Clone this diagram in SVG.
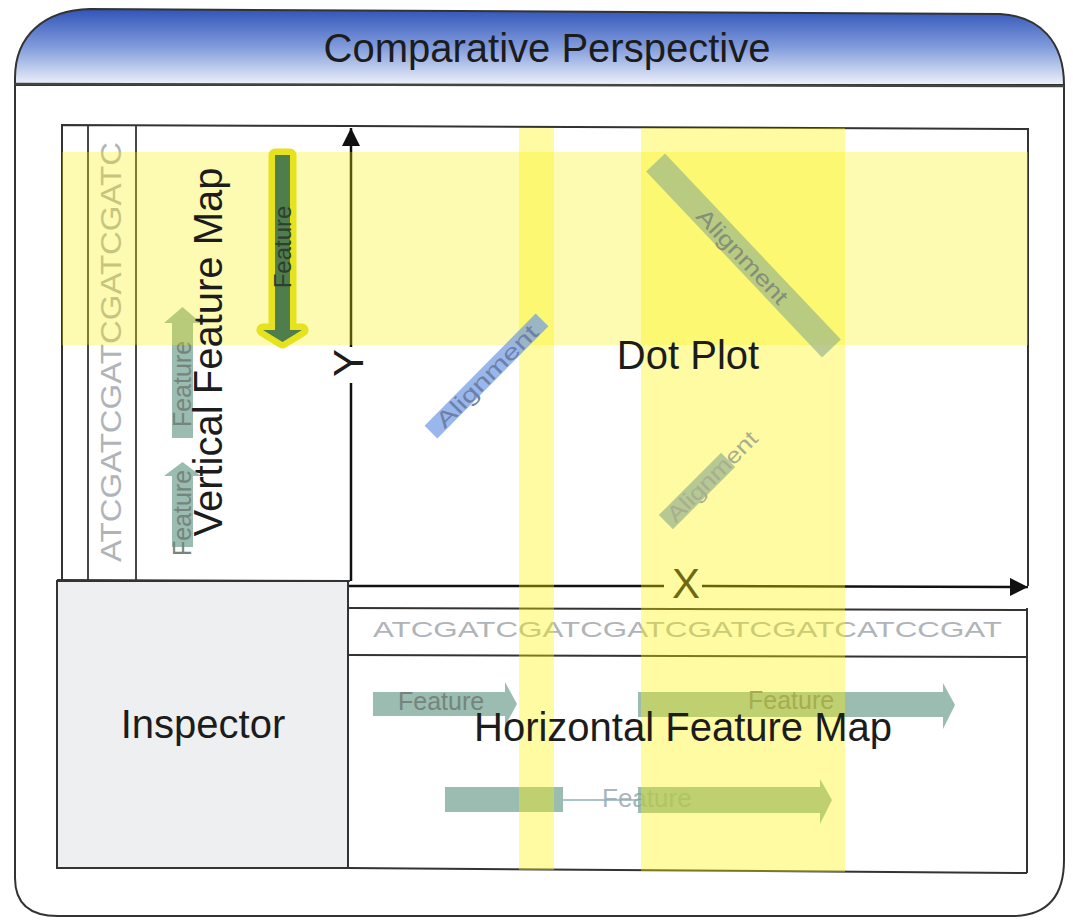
<svg xmlns="http://www.w3.org/2000/svg" width="1073" height="920" viewBox="0 0 1073 920">
<defs>
<linearGradient id="hdr" x1="0" y1="0" x2="0" y2="1">
<stop offset="0" stop-color="#3155b8"/>
<stop offset="0.5" stop-color="#819bdb"/>
<stop offset="1" stop-color="#eef2fa"/>
</linearGradient>
<marker id="ah" markerUnits="userSpaceOnUse" markerWidth="20" markerHeight="20" refX="18" refY="9" orient="auto">
<path d="M0,0 L18,9 L0,18 Z" fill="#111"/>
</marker>
<style>
text{font-family:"Liberation Sans",Arial,sans-serif}
.lbl{font-size:40px;fill:#1c1c1c}
.ax{font-size:42px;fill:#1c1c1c}
.frame{fill:none;stroke:#333;stroke-width:2}
.seq{fill:#b0b4b8}
.feat{fill:#7aa596;fill-opacity:0.75}
.ftxt{font-size:25px;fill:#75857d}
.atxt{font-size:22px}
.axis{stroke:#111;stroke-width:2.5;fill:none}
.hband{fill:#f8f000;fill-opacity:0.3}
.vband{fill:#fbf500;fill-opacity:0.36}
</style>
</defs>

<g id="outer-frame">
<path d="M15,85 L15,878 Q15,916 58,916 L1015,916 Q1064,914 1064,860 L1064,85 Z" fill="#fff" stroke="#333" stroke-width="2"/>
<path d="M15,85 L15,78 C15,35 45,10 90,9 L1000,14 C1040,16 1064,42 1064,85 Z" fill="url(#hdr)" stroke="#333" stroke-width="2"/>
<line x1="15" y1="84" x2="1064" y2="86" stroke="#444" stroke-width="2.5"/>
<text x="547" y="62" text-anchor="middle" class="lbl">Comparative Perspective</text>
</g>

<g id="inspector">
<rect x="57" y="581" width="291" height="287" fill="#eeeff1" stroke="#333" stroke-width="2"/>
<text x="203" y="738" text-anchor="middle" class="lbl">Inspector</text>
</g>

<g id="vertical-feature-map">
<path class="frame" d="M350,581 L57,580 M62,580 L62,125 L351,126"/>
<line x1="88" y1="126" x2="88" y2="580" stroke="#333" stroke-width="1.8"/>
<line x1="136" y1="126" x2="136" y2="580" stroke="#333" stroke-width="1.8"/>
<text transform="translate(121,562) rotate(-90)" class="seq" font-size="30" textLength="420" lengthAdjust="spacingAndGlyphs">ATCGATCGATCGATCGATC</text>
<g id="vfeature-1">
<path class="feat" d="M172,438 L193,438 L193,323 L201,323 L182.5,307 L164,323 L172,323 Z"/>
<text transform="translate(191,384) rotate(-90)" text-anchor="middle" class="ftxt">Feature</text>
</g>
<g id="vfeature-2">
<path class="feat" d="M172,547 L193,547 L193,476 L201,476 L182.5,462 L164,476 L172,476 Z"/>
<text transform="translate(191,513) rotate(-90)" text-anchor="middle" class="ftxt">Feature</text>
</g>
</g>

<g id="dot-plot-frame">
<path class="frame" d="M351,126 L1028,129 L1028,586"/>
</g>

<g id="horizontal-sequence">
<path class="frame" d="M348,608 L1027,610 M348,655 L1027,657 M1027,608 L1027,873"/>
<text x="373" y="637" class="seq" font-size="22" textLength="629" lengthAdjust="spacingAndGlyphs">ATCGATCGATCGATCGATCGATCATCCGAT</text>
</g>

<g id="horizontal-features">
<line x1="348" y1="868" x2="1027" y2="873" stroke="#333" stroke-width="2"/>
<g id="hfeature-1">
<path class="feat" d="M373,692 L505,692 L505,682 L517,704 L505,726 L505,716 L373,716 Z"/>
<text x="398" y="710" class="ftxt">Feature</text>
</g>
<g id="hfeature-2">
<path class="feat" d="M638,692 L943,692 L943,683 L955,705 L943,729 L943,717 L638,717 Z"/>
<text x="748" y="709" class="ftxt" font-size="25">Feature</text>
</g>
<g id="hfeature-3">
<text x="602" y="807" font-size="26" fill="#aab5bd">Feature</text>
<rect class="feat" x="445" y="787" width="118" height="25"/>
<line x1="563" y1="800" x2="638" y2="800" stroke="#8fb0b8" stroke-width="1.5"/>
<path class="feat" d="M638,787 L820,787 L820,779 L832,800 L820,824 L820,813 L638,813 Z"/>
</g>
</g>

<g id="connectors">
<g id="y-axis">
<line class="axis" x1="351" y1="581" x2="351" y2="383"/>
<line class="axis" x1="351" y1="347" x2="351" y2="128" marker-end="url(#ah)"/>
<text transform="translate(363,363) rotate(-90)" text-anchor="middle" class="ax">Y</text>
</g>
<g id="x-axis">
<line class="axis" x1="349" y1="586" x2="664" y2="586"/>
<line class="axis" x1="702" y1="586" x2="1028" y2="587" marker-end="url(#ah)"/>
<text x="686" y="598" text-anchor="middle" class="ax">X</text>
</g>
</g>

<g id="highlights">
<rect class="hband" x="62" y="152" width="966" height="193"/>
<rect class="vband" x="519" y="128" width="35" height="742"/>
<rect class="vband" x="641" y="128" width="204" height="744"/>
</g>

<g id="alignments">
<g id="alignment-1" transform="translate(486.5,376) rotate(-45.3)">
<rect x="-79" y="-9" width="158" height="18" fill="#6f98e6" fill-opacity="0.7"/>
<text x="0" y="8" text-anchor="middle" class="atxt" fill="#6d80a8" textLength="135" lengthAdjust="spacingAndGlyphs">Alignment</text>
</g>
<g id="alignment-2" transform="translate(743.5,255.5) rotate(46.6)">
<rect x="-128" y="-13" width="256" height="26" fill="#8fae8a" fill-opacity="0.62"/>
<text x="0" y="9" text-anchor="middle" class="atxt" fill="#838f78" textLength="122" lengthAdjust="spacingAndGlyphs">Alignment</text>
</g>
<g id="alignment-3" transform="translate(697,491) rotate(-45)">
<rect x="-44" y="-10" width="88" height="20" fill="#8fae8a" fill-opacity="0.65"/>
<text x="-38" y="8" class="atxt" fill="#a8ae90" textLength="118" lengthAdjust="spacingAndGlyphs">Alignment</text>
</g>
</g>

<g id="vfeature-selected">
<path d="M275,155 L290,155 L290,330 L302,330 L282.5,342 L263,330 L275,330 Z" fill="#4f7d4c" stroke="#e6e21e" stroke-width="13" stroke-linejoin="round" paint-order="stroke"/>
<text transform="translate(291,247) rotate(-90)" text-anchor="middle" font-size="24" fill="#2f3f2f">Feature</text>
</g>

<g id="labels">
<text transform="translate(222,352) rotate(-90)" text-anchor="middle" class="lbl">Vertical Feature Map</text>
<text x="688" y="369" text-anchor="middle" class="lbl">Dot Plot</text>
<text x="683" y="741" text-anchor="middle" class="lbl">Horizontal Feature Map</text>
</g>
</svg>
